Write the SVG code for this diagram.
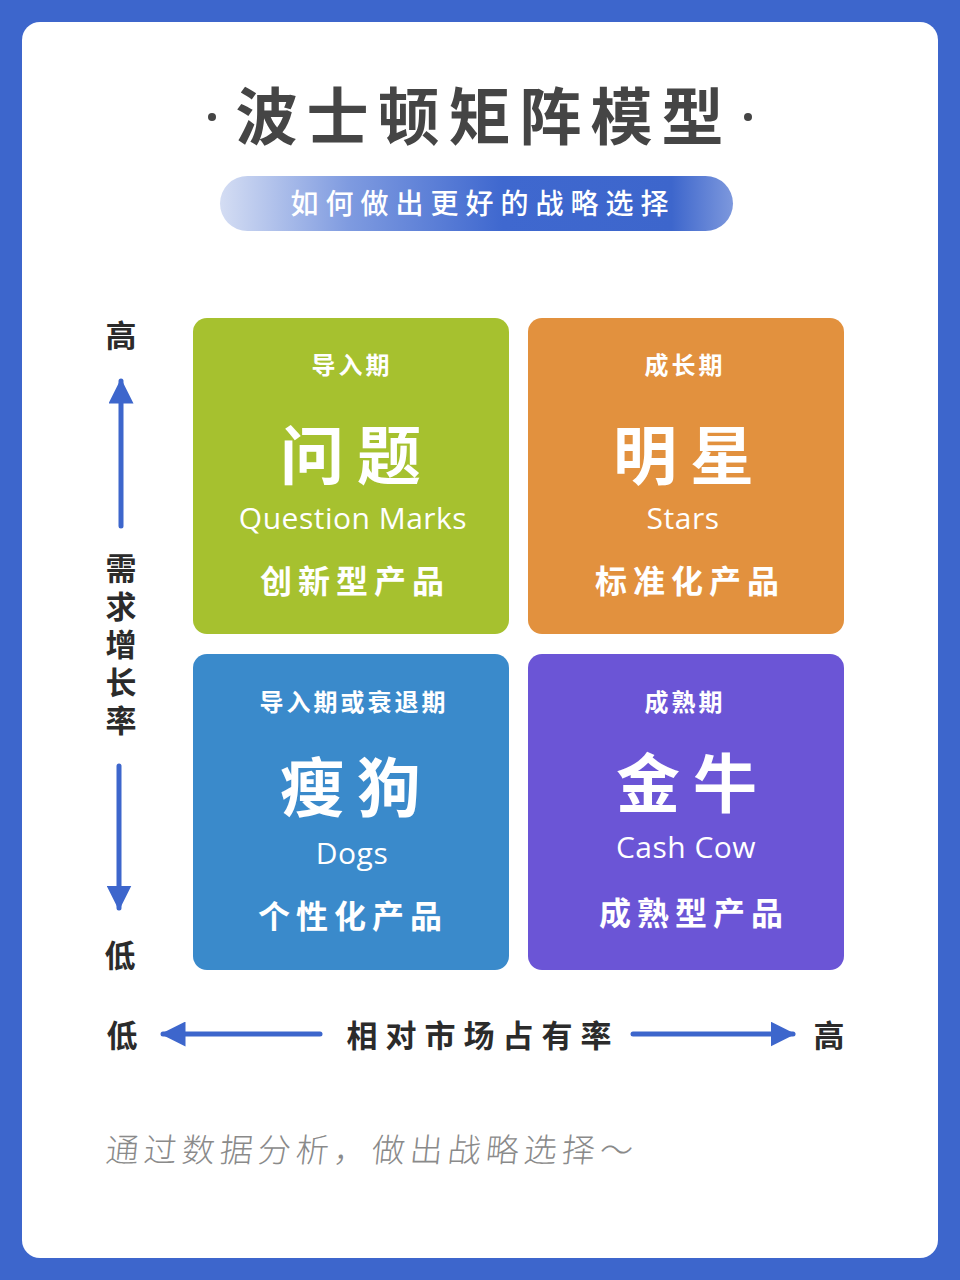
<svg xmlns="http://www.w3.org/2000/svg" width="960" height="1280" viewBox="0 0 960 1280">
<defs>
<style>
.cjk{font-family:"Noto Sans CJK SC","Noto Sans",sans-serif}
.w{fill:#ffffff;text-anchor:middle}
.ax{fill:#2b2b2b;font-weight:700;font-size:31px;text-anchor:middle}
.lat{font-family:"Open Sans","Noto Sans",sans-serif}
.big{font-size:64px;font-weight:700;letter-spacing:13px}
</style>
<linearGradient id="pill" x1="0" y1="0" x2="1" y2="0">
<stop offset="0" stop-color="#d4ddf3"/>
<stop offset="0.25" stop-color="#7f9be0"/>
<stop offset="0.55" stop-color="#3f68cf"/>
<stop offset="0.88" stop-color="#3d66cc"/>
<stop offset="1" stop-color="#7d98dd"/>
</linearGradient>
<marker id="ah" viewBox="0 0 10 10" refX="9" refY="5" markerWidth="5" markerHeight="5" orient="auto-start-reverse" markerUnits="strokeWidth">
<path d="M0,0 L10,5 L0,10 z" fill="#3d66cc"/>
</marker>
</defs>
<rect x="0" y="0" width="960" height="1280" fill="#3d66cc"/>
<rect x="22" y="22" width="916" height="1236" rx="18" fill="#ffffff"/>

<g id="title">
<circle cx="212" cy="117" r="4" fill="#454545"/>
<circle cx="748" cy="117" r="4" fill="#454545"/>
<text x="484" y="140" class="cjk" font-size="62" font-weight="700" fill="#454545" text-anchor="middle" letter-spacing="9">波士顿矩阵模型</text>
</g>
<g id="subtitle">
<rect x="220" y="176" width="513" height="55" rx="27.5" fill="url(#pill)"/>
<text x="483" y="214" class="cjk w" font-size="28" font-weight="500" letter-spacing="7">如何做出更好的战略选择</text>
</g>

<g id="q-question">
<rect x="193" y="318" width="316" height="316" rx="14" fill="#a6c12f"/>
<text x="352" y="374" class="cjk w" font-size="24" font-weight="700" letter-spacing="3">导入期</text>
<text x="357" y="479" class="cjk w big">问题</text>
<text x="353" y="529" class="lat w" font-size="30" letter-spacing="0.5">Question Marks</text>
<text x="355" y="593" class="cjk w" font-size="32" font-weight="700" letter-spacing="6">创新型产品</text>
</g>
<g id="q-stars">
<rect x="528" y="318" width="316" height="316" rx="14" fill="#e2913e"/>
<text x="685" y="374" class="cjk w" font-size="24" font-weight="700" letter-spacing="3">成长期</text>
<text x="690" y="479" class="cjk w big">明星</text>
<text x="683" y="529" class="lat w" font-size="30" letter-spacing="0.5">Stars</text>
<text x="690" y="593" class="cjk w" font-size="32" font-weight="700" letter-spacing="6">标准化产品</text>
</g>
<g id="q-dogs">
<rect x="193" y="654" width="316" height="316" rx="14" fill="#3a8acb"/>
<text x="354" y="711" class="cjk w" font-size="24" font-weight="700" letter-spacing="3">导入期或衰退期</text>
<text x="357" y="811" class="cjk w big">瘦狗</text>
<text x="352" y="864" class="lat w" font-size="30" letter-spacing="0.5">Dogs</text>
<text x="353" y="928" class="cjk w" font-size="32" font-weight="700" letter-spacing="6">个性化产品</text>
</g>
<g id="q-cashcow">
<rect x="528" y="654" width="316" height="316" rx="14" fill="#6b55d6"/>
<text x="685" y="711" class="cjk w" font-size="24" font-weight="700" letter-spacing="3">成熟期</text>
<text x="693" y="807" class="cjk w big">金牛</text>
<text x="686" y="858" class="lat w" font-size="30" letter-spacing="0.5">Cash Cow</text>
<text x="694" y="925" class="cjk w" font-size="32" font-weight="700" letter-spacing="6">成熟型产品</text>
</g>

<g id="connectors" stroke="#3d66cc" stroke-width="5" stroke-linecap="round" fill="none">
<line x1="121" y1="526" x2="121" y2="381" marker-end="url(#ah)"/>
<line x1="119" y1="766" x2="119" y2="908" marker-end="url(#ah)"/>
<line x1="320" y1="1034" x2="163" y2="1034" marker-end="url(#ah)"/>
<line x1="633" y1="1034" x2="793" y2="1034" marker-end="url(#ah)"/>
</g>

<g id="axis-y">
<text x="121" y="347" class="cjk ax">高</text>
<text x="121" y="553" class="cjk" font-size="31" font-weight="700" fill="#2b2b2b" writing-mode="tb" letter-spacing="7">需求增长率</text>
<text x="120" y="967" class="cjk ax">低</text>
</g>
<g id="axis-x">
<text x="122" y="1047" class="cjk ax">低</text>
<text x="483" y="1047" class="cjk ax" letter-spacing="8">相对市场占有率</text>
<text x="829" y="1047" class="cjk ax">高</text>
</g>

<g id="footer">
<text x="107" y="1162" class="cjk" font-size="33" font-weight="300" fill="#8a8a8a" letter-spacing="5" transform="skewX(-6) translate(120 0)">通过数据分析，做出战略选择～</text>
</g>
</svg>
